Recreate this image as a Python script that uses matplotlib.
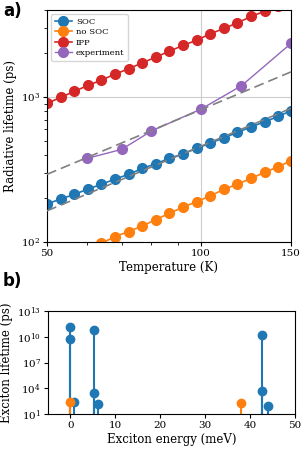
import matplotlib
matplotlib.use('Agg')
import matplotlib.pyplot as plt
import matplotlib.ticker as mticker

plt.rcParams['font.family'] = 'serif'
plt.rcParams['font.serif'] = ['DejaVu Serif']
plt.rcParams['mathtext.fontset'] = 'dejavuserif'

# panel a: radiative lifetime vs temperature
temps = [50.0, 53.16, 56.52, 60.09, 63.89, 67.93, 72.22, 76.79, 81.64, 86.80,
         92.29, 98.12, 104.3, 110.9, 117.9, 125.4, 133.3, 141.7, 150.0]
soc = [183, 198, 213, 232, 250, 272, 293, 322, 347, 378,
       406, 443, 481, 524, 571, 624, 676, 736, 805]
temps_nosoc = temps[4:]
nosoc = [98, 109, 118, 129, 143, 158, 174, 190, 208, 231, 251, 275, 303, 331, 364]
ipp = [906, 995, 1094, 1204, 1310, 1442, 1568, 1725, 1888, 2076,
       2274, 2472, 2733, 2978, 3256, 3605, 3917, 4249, 4650]
exp_temps = [60, 70, 80, 100, 120, 150]
exp_vals = [378, 436, 583, 826, 1197, 2345]
fit_temps = [50, 150]
fit_upper = [293, 1493]
fit_lower = [164, 836]

# panel b: exciton lifetimes vs exciton energy
soc_energy = [0.0, 0.0, 0.74, 5.37, 5.37, 6.18, 42.68, 42.68, 44.1]
soc_life = [1.48e11, 5.5e9, 269, 6.2e10, 3020, 148, 1.6e10, 5250, 93]
nosoc_energy = [0.0, 37.9]
nosoc_life = [229, 178]

fig = plt.figure(figsize=(3.05, 4.49), dpi=100)

ax = fig.add_axes([0.154, 0.461, 0.800, 0.517])
ms = 7
ax.plot(temps, soc, 'o-', color='C0', ms=ms, lw=1.2, label='SOC')
ax.plot(temps_nosoc, nosoc, 'o-', color='C1', ms=ms, lw=1.2, label='no SOC')
ax.plot(temps, ipp, 'o-', color='C3', ms=ms, lw=1.2, label='IPP')
ax.plot(exp_temps, exp_vals, 'o-', color='C4', ms=ms, lw=1.0, label='experiment')
ax.plot(fit_temps, fit_upper, '--', color='gray', lw=1.2, dashes=(6, 3), zorder=3)
ax.plot(fit_temps, fit_lower, '--', color='gray', lw=1.2, dashes=(6, 3), zorder=3)
ax.set_xscale('log')
ax.set_yscale('log')
ax.set_xlim(50, 150)
ax.set_ylim(100, 4000)
ax.set_xticks([50, 100, 150])
ax.xaxis.set_major_formatter(mticker.ScalarFormatter())
ax.xaxis.set_minor_formatter(mticker.NullFormatter())
ax.grid(True, which='major', color='#cccccc', lw=0.8)
ax.set_xlabel('Temperature (K)', fontsize=8.5, labelpad=2)
ax.set_ylabel('Radiative lifetime (ps)', fontsize=8.5, labelpad=3)
ax.tick_params(labelsize=7.5, length=3, pad=2)
ax.tick_params(which='minor', length=2)
ax.legend(loc='upper left', fontsize=6.1, handlelength=2.0, borderpad=0.4,
          labelspacing=0.3, handletextpad=0.5)

bx = fig.add_axes([0.157, 0.078, 0.810, 0.229])
st = bx.stem(soc_energy, soc_life, linefmt='C0-', markerfmt='C0o', basefmt=' ', bottom=1)
st.markerline.set_markersize(6)
st.stemlines.set_linewidth(1.5)
st2 = bx.stem(nosoc_energy, nosoc_life, linefmt='C1-', markerfmt='C1o', basefmt=' ', bottom=1)
st2.markerline.set_markersize(6)
st2.stemlines.set_linewidth(1.5)
bx.set_yscale('log')
bx.set_xlim(-5, 50)
bx.set_ylim(10, 1e13)
bx.set_yticks([1e1, 1e4, 1e7, 1e10, 1e13])
bx.yaxis.set_minor_locator(mticker.NullLocator())
bx.set_xlabel('Exciton energy (meV)', fontsize=8.5, labelpad=2)
bx.set_ylabel('Exciton lifetime (ps)', fontsize=8.5, labelpad=3)
bx.tick_params(labelsize=7.5, length=3, pad=2)

fig.text(0.01, 0.995, 'a)', family='DejaVu Sans', weight='bold', fontsize=12, va='top')
fig.text(0.01, 0.394, 'b)', family='DejaVu Sans', weight='bold', fontsize=12, va='top')

fig.savefig('out.png', dpi=100)
